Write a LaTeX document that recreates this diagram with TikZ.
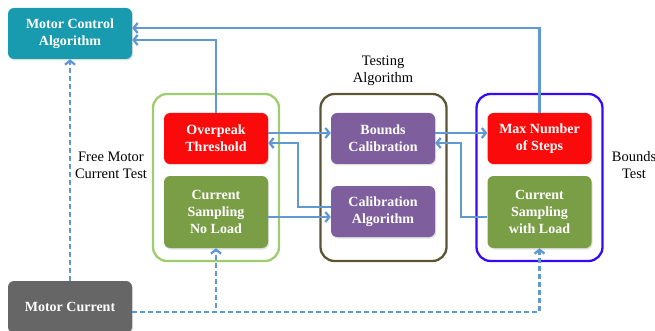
\documentclass[tikz,border=0pt]{standalone}
\usepackage{fontspec}
\setmainfont{Liberation Serif}
\usetikzlibrary{arrows.meta,shadows,calc}
\definecolor{teal1}{RGB}{25,155,175}
\definecolor{gray1}{RGB}{102,102,102}
\definecolor{red1}{RGB}{250,10,10}
\definecolor{green1}{RGB}{122,158,70}
\definecolor{purple1}{RGB}{126,94,156}
\definecolor{gframe}{RGB}{158,204,110}
\definecolor{oframe}{RGB}{92,85,53}
\definecolor{bframe}{RGB}{55,10,245}
\definecolor{arrblue}{RGB}{96,152,210}
\tikzset{
  box/.style={draw=none, rounded corners=6pt, text=white, align=center,
    font=\fontsize{14}{17}\selectfont\bfseries,
    drop shadow={opacity=0.25, shadow xshift=1pt, shadow yshift=-1.5pt}},
  frame/.style={rounded corners=14pt, line width=2.3pt, fill=none},
  lbl/.style={align=center, font=\fontsize{14.5}{17}\selectfont},
  arr/.style={draw=arrblue, line width=2.3pt, -{Straight Barb[length=4pt,width=10pt]}},
  darr/.style={arr, dash pattern=on 5pt off 3pt},
}
\begin{document}
\begin{tikzpicture}[x=1pt,y=-1pt]
\useasboundingbox (0,0) rectangle (655,331);
% frames
\node[frame, draw=gframe, minimum width=126pt, minimum height=167pt] (gf) at (216,177.5) {};
\node[frame, draw=oframe, minimum width=126pt, minimum height=167pt] (of) at (383.5,177.5) {};
\node[frame, draw=bframe, minimum width=126pt, minimum height=167pt] (bf) at (539.5,177.5) {};
% boxes
\node[box, fill=teal1, minimum width=124pt, minimum height=51pt] (mca) at (70,33.5) {Motor Control\\Algorithm};
\node[box, fill=gray1, minimum width=124pt, minimum height=52pt] (mc) at (70,307) {Motor Current};
\node[box, fill=red1, minimum width=104pt, minimum height=51pt] (op) at (216,138.5) {Overpeak\\Threshold};
\node[box, fill=green1, minimum width=104pt, minimum height=72pt] (csn) at (216,212) {Current\\Sampling\\No Load};
\node[box, fill=purple1, minimum width=104pt, minimum height=51pt] (bc) at (383,138.5) {Bounds\\Calibration};
\node[box, fill=purple1, minimum width=104pt, minimum height=51pt] (ca) at (383,211.5) {Calibration\\Algorithm};
\node[box, fill=red1, minimum width=104pt, minimum height=51pt] (ms) at (539.5,138.5) {Max Number\\of Steps};
\node[box, fill=green1, minimum width=104pt, minimum height=72pt] (csl) at (539.5,212) {Current\\Sampling\\with Load};
% labels
\node[lbl] (ta) at (383,71) {Testing\\Algorithm};
\node[lbl] (fm) at (111,165.5) {Free Motor\\Current Test};
\node[lbl] (bt) at (634,165.5) {Bounds\\Test};
% solid connectors
\draw[arr] (ms.north) |- ([yshift=5.5pt]mca.east);
\draw[arr] (op.north) |- ([yshift=-6.5pt]mca.east);
\draw[arr] ([yshift=5.5pt]op.east) -- ([yshift=5.5pt]bc.west);
\draw[arr] ([yshift=4.5pt]ca.west) -- ++(-33,0) |- ([yshift=-4.5pt]op.east);
\draw[arr] ([yshift=-5pt]csn.east) -- ([yshift=-5pt]csn.east -| ca.west);
\draw[arr] ([yshift=5.5pt]bc.east) -- ([yshift=5.5pt]bc.east -| ms.west);
\draw[arr] ([yshift=-5pt]csl.west) -- ++(-26,0) |- ([yshift=-4.5pt]bc.east);
% dashed connectors
\draw[darr] (mc.north) -- (mca.south);
\draw[darr] ([yshift=-5pt]mc.east) -| (csl.south);
\draw[darr] ([yshift=-5pt]mc.east) -| (csn.south);
\end{tikzpicture}
\end{document}
